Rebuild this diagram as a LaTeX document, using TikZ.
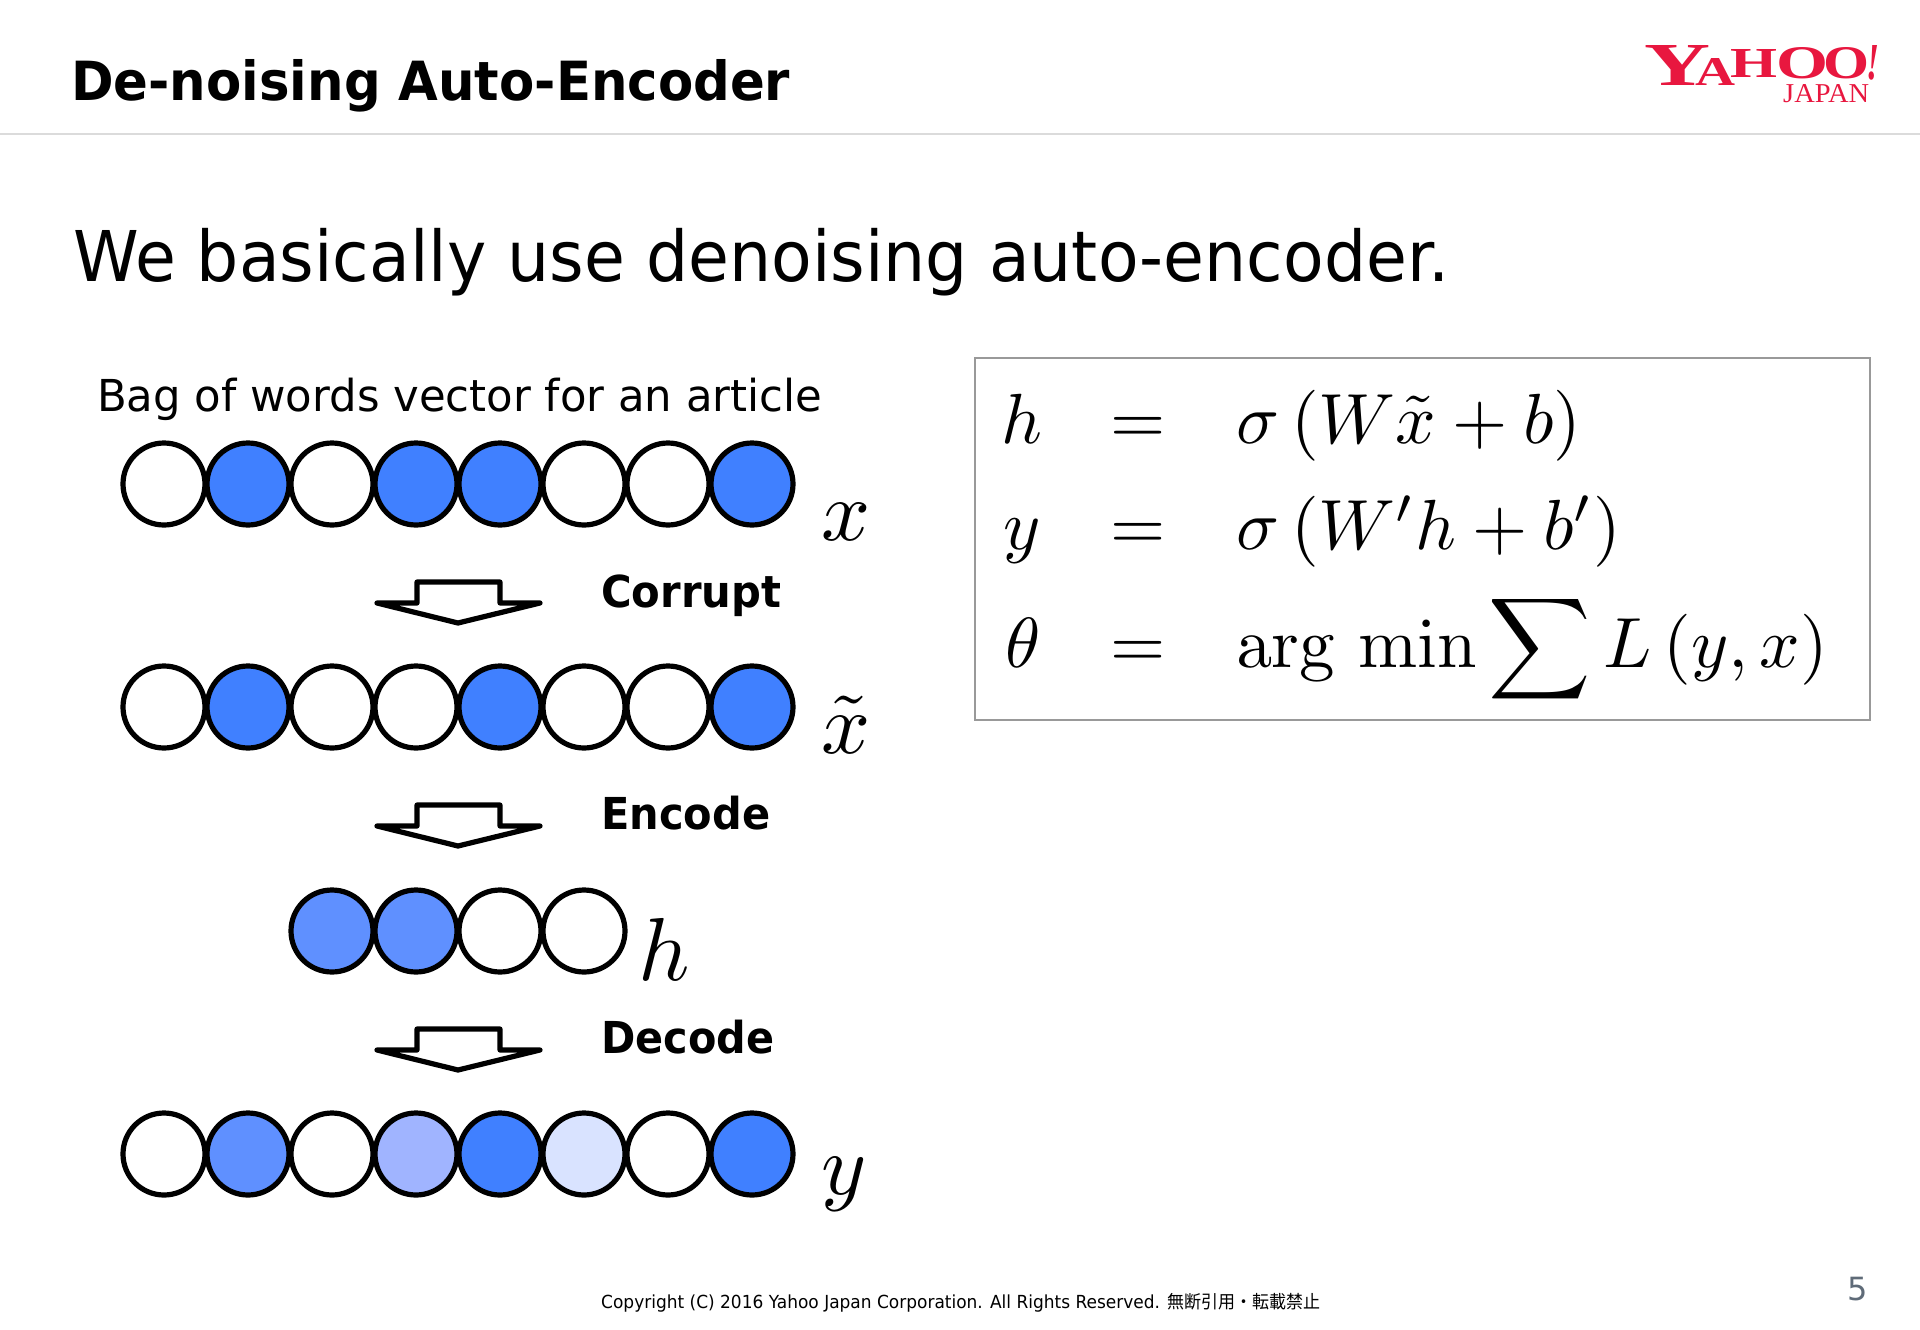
\documentclass[tikz,border=0pt]{standalone}
\usepackage[no-math]{fontspec}
\usepackage{graphicx}
\setmainfont{DejaVu Sans}
\newfontfamily\cjkf{Noto Sans CJK JP}
\newfontfamily\logof{Liberation Serif}[BoldFont={Liberation Serif Bold}]
\newcommand{\fitw}[2]{\resizebox{#1pt}{\height}{#2}}
\newcommand{\fs}[1]{\fontsize{#1}{#1}\selectfont}
\newcommand{\logol}[6]{\node[anchor=base west,inner sep=0pt,text=logored] (#6) at (#1,#2) {\resizebox{#3pt}{#4pt}{\logof\bfseries #5}};}
\definecolor{logored}{HTML}{E8173F}
\definecolor{blueA}{HTML}{4080FF}
\definecolor{blueB}{HTML}{5F90FF}
\definecolor{blueC}{HTML}{A0B4FF}
\definecolor{blueD}{HTML}{D9E3FF}
\definecolor{pagegray}{HTML}{5F6B78}
\tikzset{
  cell/.style={circle,draw=black,line width=5.2pt,minimum size=82pt,inner sep=0pt},
  lbl/.style={anchor=base west,inner sep=0pt,text=black},
  mathlbl/.style={anchor=base west,inner sep=0pt,scale=8.6},
  eq/.style={anchor=base west,inner sep=0pt,scale=7.1},
  downarrow/.style={draw=black,line width=5.2pt,fill=white,line join=round},
}
\begin{document}
\begin{tikzpicture}[x=1pt,y=-1pt]
\useasboundingbox (0,0) rectangle (1920,1330);
\fill[white] (0,0) rectangle (1920,1330);
% header
\coordinate (ruleL) at (0,134);
\coordinate (ruleR) at (1920,134);
\draw[line width=1.5pt,draw=black!14] (ruleL) -- (ruleR);
\node[lbl] (title) at (71,100) {\fitw{719}{\fs{54}\bfseries De-noising Auto-Encoder}};
\node[lbl] (lead) at (73,281) {\fitw{1376}{\fs{70}We basically use denoising auto-encoder.}};
% logo
\logol{1644}{86}{66}{40}{Y}{lgY}
\logol{1695}{85}{40}{27}{A}{lgA}
\logol{1730}{78}{47}{28}{H}{lgH}
\logol{1776}{79}{52}{31}{O}{lgO}
\logol{1823}{79}{46}{31}{O}{lgOO}
\node[anchor=base west,inner sep=0pt,text=logored] (lgX) at (1866,80) {\resizebox{13pt}{34pt}{\logof\bfseries\itshape !}};
\node[anchor=base west,inner sep=0pt,text=logored] (lgJ) at (1783,102) {\resizebox{86pt}{18pt}{\logof JAPAN}};
% labels
\node[lbl] (bag) at (97,411) {\fitw{725}{\fs{44}Bag of words vector for an article}};
\node[lbl] (corrupt) at (601,607) {\fitw{180}{\fs{44}\bfseries Corrupt}};
\node[lbl] (encode) at (601,829) {\fitw{169}{\fs{44}\bfseries Encode}};
\node[lbl] (decode) at (601,1053) {\fitw{173}{\fs{44}\bfseries Decode}};
% rows of cells
\foreach \i/\c in {1/white,2/blueA,3/white,4/blueA,5/blueA,6/white,7/white,8/blueA}
  \node[cell,fill=\c] (x\i) at ({164+84*(\i-1)},484) {};
\foreach \i/\c in {1/white,2/blueA,3/white,4/white,5/blueA,6/white,7/white,8/blueA}
  \node[cell,fill=\c] (t\i) at ({164+84*(\i-1)},707) {};
\foreach \i/\c in {3/blueB,4/blueB,5/white,6/white}
  \node[cell,fill=\c] (h\i) at ({164+84*(\i-1)},931) {};
\foreach \i/\c in {1/white,2/blueB,3/white,4/blueC,5/blueA,6/blueD,7/white,8/blueA}
  \node[cell,fill=\c] (y\i) at ({164+84*(\i-1)},1154) {};
% block arrows
\foreach \d in {0,223,447}
  \draw[downarrow,shift={(0,\d)}] (377,603) -- (417,603) -- (417,582) -- (500,582) -- (500,603) -- (540,603) -- (458,623) -- cycle;
% row symbols
\node[mathlbl] (mx) at (820,540) {$x$};
\node[mathlbl] (mt) at (820,753) {$\tilde{x}$};
\node[mathlbl,scale=1.04] (mh) at (637,980) {$h$};
\node[mathlbl] (my) at (820,1194) {$y$};
% equations box
\draw[draw=black!40,line width=2pt,fill=white] (975,358) rectangle (1870,720);
\node[eq] (e1a) at (1000,443) {$h$};
\node[eq] (e1b) at (1109,443) {$=$};
\node[eq] (e1c) at (1235,443) {$\sigma\left(W\tilde{x}+b\right)$};
\node[eq] (e2a) at (1002,549) {$y$};
\node[eq] (e2b) at (1109,549) {$=$};
\node[eq] (e2c) at (1235,549) {$\sigma\left(W'h+b'\right)$};
\node[eq] (e3a) at (1004,667) {$\theta$};
\node[eq] (e3b) at (1109,667) {$=$};
\node[eq] (e3c) at (1235,667) {$\displaystyle\mathrm{arg\ min}\sum L\left(y,x\right)$};
% footer
\node[lbl] (copy) at (601,1308) {\fitw{719}{\fs{18}Copyright (C) 2016 Yahoo Japan Corporation. All Rights Reserved. {\cjkf 無断引用・転載禁止}}};
\node[lbl,text=pagegray] (page) at (1847,1300) {\fs{32}5};
\end{tikzpicture}
\end{document}
